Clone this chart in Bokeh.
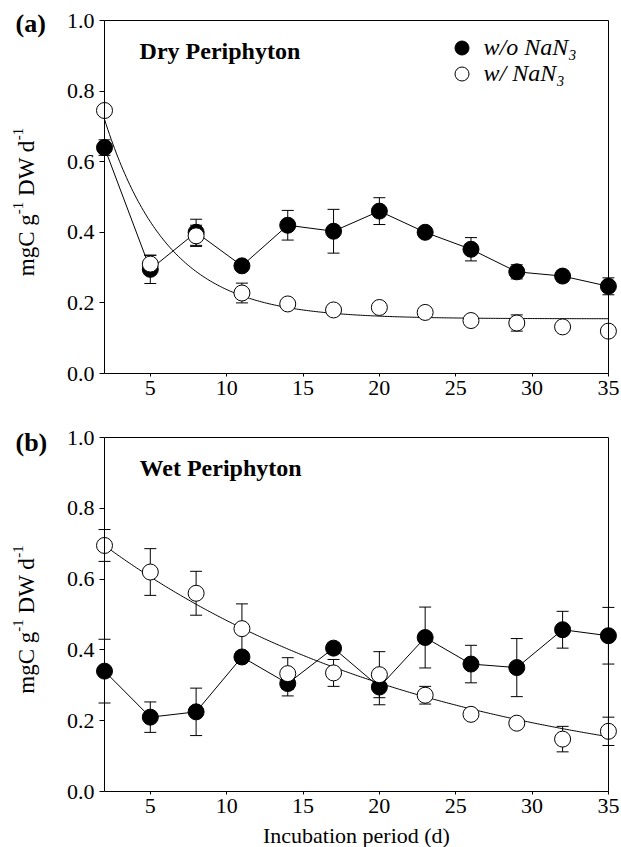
import numpy as np
from bokeh.plotting import figure
from bokeh.models import (ColumnDataSource, Whisker, TeeHead, Legend, LegendItem, Label,
                          LinearAxis, FixedTicker, Range1d)
from bokeh.core.properties import value
from bokeh.layouts import column
from bokeh.embed import file_html
from bokeh.resources import INLINE

# ---------------- data ----------------
days = [2, 5, 8, 11, 14, 17, 20, 23, 26, 29, 32, 35]

dry_wo = [0.640, 0.295, 0.400, 0.305, 0.420, 0.403, 0.460, 0.400, 0.352, 0.288, 0.276, 0.247]
dry_wo_err = [0.022, 0.040, 0.037, 0.012, 0.042, 0.062, 0.038, 0.012, 0.033, 0.020, 0.015, 0.024]
dry_w = [0.745, 0.310, 0.390, 0.228, 0.197, 0.180, 0.187, 0.173, 0.150, 0.143, 0.132, 0.120]
dry_w_err = [0.005, 0.025, 0.030, 0.028, 0.008, 0.015, 0.008, 0.008, 0.005, 0.023, 0.005, 0.005]

wet_wo = [0.340, 0.210, 0.225, 0.380, 0.305, 0.405, 0.295, 0.435, 0.360, 0.350, 0.457, 0.440]
wet_wo_err = [0.090, 0.043, 0.067, 0.015, 0.035, 0.015, 0.050, 0.086, 0.053, 0.082, 0.052, 0.080]
wet_w = [0.695, 0.620, 0.560, 0.460, 0.333, 0.335, 0.330, 0.272, 0.218, 0.193, 0.148, 0.170]
wet_w_err = [0.045, 0.066, 0.062, 0.070, 0.045, 0.038, 0.065, 0.025, 0.008, 0.010, 0.036, 0.040]

# exponential-decay fit parameters for the NaN3 series: y = y0 + a*exp(-b*(x-2))
dry_fit = (0.155, 0.565, 0.24)
wet_fit = (0.0, 0.695, 0.0455)

x_ticks = [5, 10, 15, 20, 25, 30, 35]
x_tick_labels = ["5", "10", "15", "20", "25", "30", "35"]
y_ticks = [0.0, 0.2, 0.4, 0.6, 0.8, 1.0]
y_tick_labels = ["0.0", "0.2", "0.4", "0.6", "0.8", "1.0"]

FONT = "Liberation Serif"
X0, X1 = days[0], days[-1]
Y0, Y1 = y_ticks[0], y_ticks[-1]

# layout in pixels (whole figure is the plot frame; axes drawn at fixed places)
W = 621
PX_X = 15.27          # pixels per day
AX_LEFT = 104         # pixel column of day 2

# approximate advance widths (em) of Liberation Serif, used to chain the title pieces
ADV = {"m": 0.778, "g": 0.5, "C": 0.667, " ": 0.25, "D": 0.722, "W": 0.944,
       "d": 0.5, "-": 0.333, "1": 0.5}


def text_w(s, size):
    return sum(ADV[c] for c in s) * size


def plain_axis(ticks, **kw):
    ax = LinearAxis(ticker=FixedTicker(ticks=ticks), **kw)
    ax.major_tick_out = 0
    ax.major_tick_in = 0
    ax.minor_tick_out = 0
    ax.minor_tick_in = 0
    ax.major_label_text_font_size = "0px"
    ax.major_label_text_color = None
    ax.major_label_standoff = 0
    ax.axis_line_color = "black"
    ax.major_tick_line_color = "black"
    return ax


def make_panel(height, top_px, unit_px, wo, wo_err, w, w_err, fit, tag, tag_dy, name,
               xlabel=None, legend=False):
    bottom_px = height - top_px - unit_px
    x_start = X0 - AX_LEFT / PX_X
    x_end = X0 + (W - AX_LEFT) / PX_X
    y_start = -bottom_px / unit_px
    y_end = 1 + top_px / unit_px
    p = figure(width=W, height=height, x_range=Range1d(x_start, x_end),
               y_range=Range1d(y_start, y_end), output_backend="svg",
               toolbar_location=None, x_axis_location=None, y_axis_location=None,
               min_border=0)
    p.outline_line_color = None
    p.grid.grid_line_color = None
    p.background_fill_color = "white"

    # x axis line at 0 with ticks pointing down
    xa = plain_axis(x_ticks, fixed_location=Y0, bounds=(X0, X1))
    xa.major_tick_in = 3
    p.add_layout(xa, "above")
    # top frame line
    p.add_layout(plain_axis([], fixed_location=Y1, bounds=(X0, X1)), "above")
    # y axis line at day 2 with ticks pointing left
    yb = plain_axis(y_ticks, fixed_location=X0, bounds=(Y0, Y1))
    yb.major_tick_in = 5
    p.add_layout(yb, "right")
    # right frame line
    p.add_layout(plain_axis([], fixed_location=X1, bounds=(Y0, Y1)), "right")

    # tick labels
    p.text(x=[X0] * len(y_ticks), y=y_ticks, text=y_tick_labels, x_offset=-10,
           text_align="right", text_baseline="middle", text_font=value(FONT),
           text_font_size="22px", text_color="black")
    p.text(x=x_ticks, y=[Y0] * len(x_ticks), text=x_tick_labels, y_offset=7,
           text_align="center", text_baseline="top", text_font=value(FONT),
           text_font_size="22px", text_color="black")

    # y axis title with superscripts, rotated
    main_size, sup_size = 23, 15
    pieces = [("mgC g", False), ("-1", True), (" DW d", False), ("-1", True)]
    total = sum(text_w(s, sup_size if sup else main_size) for s, sup in pieces)
    pos = unit_px / 2 - 5 - total / 2
    for s, sup in pieces:
        size = sup_size if sup else main_size
        lead = text_w(" ", size) if s.startswith(" ") else 0
        p.add_layout(Label(x=X0, y=Y0, text=s.strip(), angle=np.pi / 2,
                           x_offset=-87 if sup else -78, y_offset=pos + lead,
                           text_align="left", text_baseline="alphabetic",
                           text_font=FONT, text_font_size=f"{size}px",
                           text_color="black"))
        pos += text_w(s, size)

    if xlabel:
        p.add_layout(Label(x=(X0 + X1) / 2, y=Y0, y_offset=-44, text=xlabel,
                           text_align="center", text_baseline="middle",
                           text_font=FONT, text_font_size="22px", text_color="black"))

    src_wo = ColumnDataSource(dict(x=days, y=wo,
                                   lo=[v - e for v, e in zip(wo, wo_err)],
                                   hi=[v + e for v, e in zip(wo, wo_err)]))
    src_w = ColumnDataSource(dict(x=days, y=w,
                                  lo=[v - e for v, e in zip(w, w_err)],
                                  hi=[v + e for v, e in zip(w, w_err)]))

    for src in (src_wo, src_w):
        wh = Whisker(base="x", lower="lo", upper="hi", source=src,
                     line_color="black", line_width=1,
                     upper_head=TeeHead(size=12, line_color="black", line_width=1),
                     lower_head=TeeHead(size=12, line_color="black", line_width=1))
        p.add_layout(wh)

    p.line("x", "y", source=src_wo, line_color="black", line_width=1)
    r_wo = p.scatter("x", "y", source=src_wo, size=16, marker="circle",
                     fill_color="black", line_color="black", line_width=1)

    xf = np.linspace(X0, X1, 300)
    y0, a, b = fit
    p.line(xf, y0 + a * np.exp(-b * (xf - X0)), line_color="black", line_width=1)

    r_w = p.scatter("x", "y", source=src_w, size=16, marker="circle",
                    fill_color="white", line_color="black", line_width=1)

    # panel tag and panel name
    p.add_layout(Label(x=X0, y=Y1, x_offset=-89, y_offset=tag_dy, text=tag, text_font=FONT,
                       text_font_style="bold", text_font_size="26px",
                       text_baseline="middle", text_color="black"))
    p.add_layout(Label(x=4.3, y=0.915, text=name, text_font=FONT,
                       text_font_style="bold", text_font_size="24px",
                       text_baseline="middle", text_color="black"))

    if legend:
        base = bottom_px + unit_px - 27 - 17.5
        for lab, rend, dy in (("w/o NaN\u2083", r_wo, 0), ("w/ NaN\u2083", r_w, 26)):
            lg = Legend(items=[LegendItem(label=lab, renderers=[rend])],
                        location=(443.5, base - dy), glyph_width=35, glyph_height=35,
                        padding=0, margin=0, spacing=0, label_standoff=5,
                        border_line_color=None, background_fill_alpha=0,
                        label_text_font=FONT, label_text_font_style="italic",
                        label_text_font_size="24px", label_text_color="black")
            p.add_layout(lg)
    return p


top = make_panel(409, 20, 353, dry_wo, dry_wo_err, dry_w, dry_w_err, dry_fit,
                 "(a)", -3, "Dry Periphyton", legend=True)
bottom = make_panel(438, 28, 354, wet_wo, wet_wo_err, wet_w, wet_w_err, wet_fit,
                    "(b)", -5, "Wet Periphyton", xlabel="Incubation period (d)")

layout = column(top, bottom, spacing=0)
open("out.html", "w").write(file_html(layout, INLINE))
